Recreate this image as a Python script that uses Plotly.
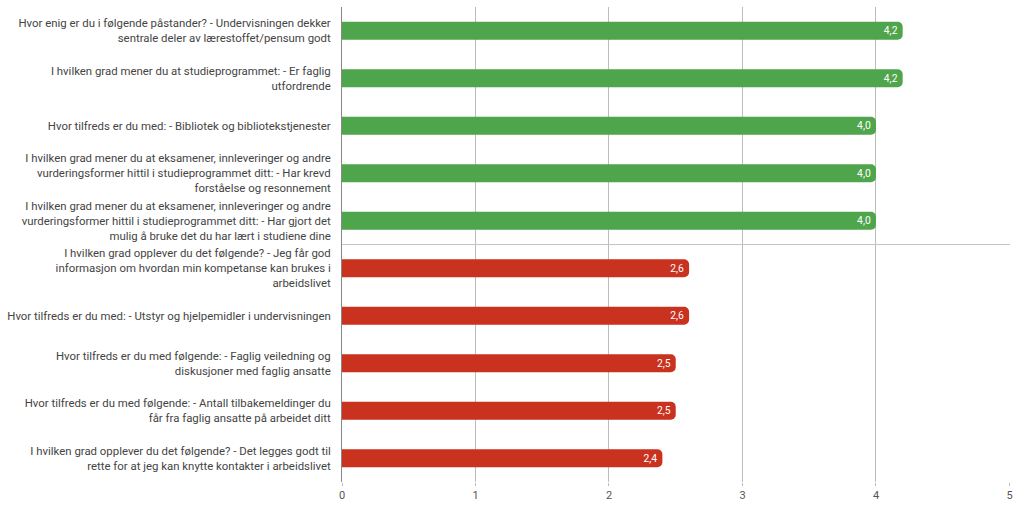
import plotly.graph_objects as go

categories = [
    "Hvor enig er du i følgende påstander? - Undervisningen dekker<br>sentrale deler av lærestoffet/pensum godt",
    "I hvilken grad mener du at studieprogrammet: - Er faglig<br>utfordrende",
    "Hvor tilfreds er du med: - Bibliotek og bibliotekstjenester",
    "I hvilken grad mener du at eksamener, innleveringer og andre<br>vurderingsformer hittil i studieprogrammet ditt: - Har krevd<br>forståelse og resonnement",
    "I hvilken grad mener du at eksamener, innleveringer og andre<br>vurderingsformer hittil i studieprogrammet ditt: - Har gjort det<br>mulig å bruke det du har lært i studiene dine",
    "I hvilken grad opplever du det følgende? - Jeg får god<br>informasjon om hvordan min kompetanse kan brukes i<br>arbeidslivet",
    "Hvor tilfreds er du med: - Utstyr og hjelpemidler i undervisningen",
    "Hvor tilfreds er du med følgende: - Faglig veiledning og<br>diskusjoner med faglig ansatte",
    "Hvor tilfreds er du med følgende: - Antall tilbakemeldinger du<br>får fra faglig ansatte på arbeidet ditt",
    "I hvilken grad opplever du det følgende? - Det legges godt til<br>rette for at jeg kan knytte kontakter i arbeidslivet",
]
values = [4.2, 4.2, 4.0, 4.0, 4.0, 2.6, 2.6, 2.5, 2.5, 2.4]
groups = ["high"] * 5 + ["low"] * 5
x_ticks = [0, 1, 2, 3, 4, 5]

color_map = {"high": "#4fa54b", "low": "#c9321e"}
colors = [color_map[g] for g in groups]
text = [f"{v:.1f}".replace(".", ",") for v in values]

fig = go.Figure(go.Bar(
    x=values, y=categories, orientation="h",
    marker=dict(color=colors, cornerradius=5, line=dict(width=0)),
    width=0.38,
    text=text, textposition="inside", insidetextanchor="end",
    textfont=dict(color="white", size=12, family="Roboto"),
    hoverinfo="skip", cliponaxis=False,
))

fig.add_shape(type="line", xref="paper", yref="y", x0=0, x1=1, y0=4.5, y1=4.5,
              line=dict(color="#c4c4c4", width=1))

fig.update_layout(
    width=1023, height=524,
    margin=dict(l=342, r=13, t=7, b=42, autoexpand=False),
    paper_bgcolor="white", plot_bgcolor="white",
    font=dict(family="Roboto", size=11.4, color="#444444"),
    showlegend=False,
    bargap=0.62,
)
fig.update_xaxes(
    range=[0, 5.004], tickvals=x_ticks, ticktext=[str(t) for t in x_ticks],
    showgrid=True, gridcolor="#bdbdbd", gridwidth=1,
    zeroline=False, ticks="outside", ticklen=3, tickcolor="#bdbdbd",
    tickfont=dict(size=11, color="#555555"), automargin=False,
)
fig.update_yaxes(
    categoryorder="array", categoryarray=categories, autorange="reversed",
    showline=True, linecolor="#888888", linewidth=1,
    ticks="", ticklabelstandoff=8, automargin=False,
    tickfont=dict(size=11.4, color="#444444"),
)

fig.write_html("out.html", config={"displayModeBar": False},
               post_script="document.body.style.margin='0';")
